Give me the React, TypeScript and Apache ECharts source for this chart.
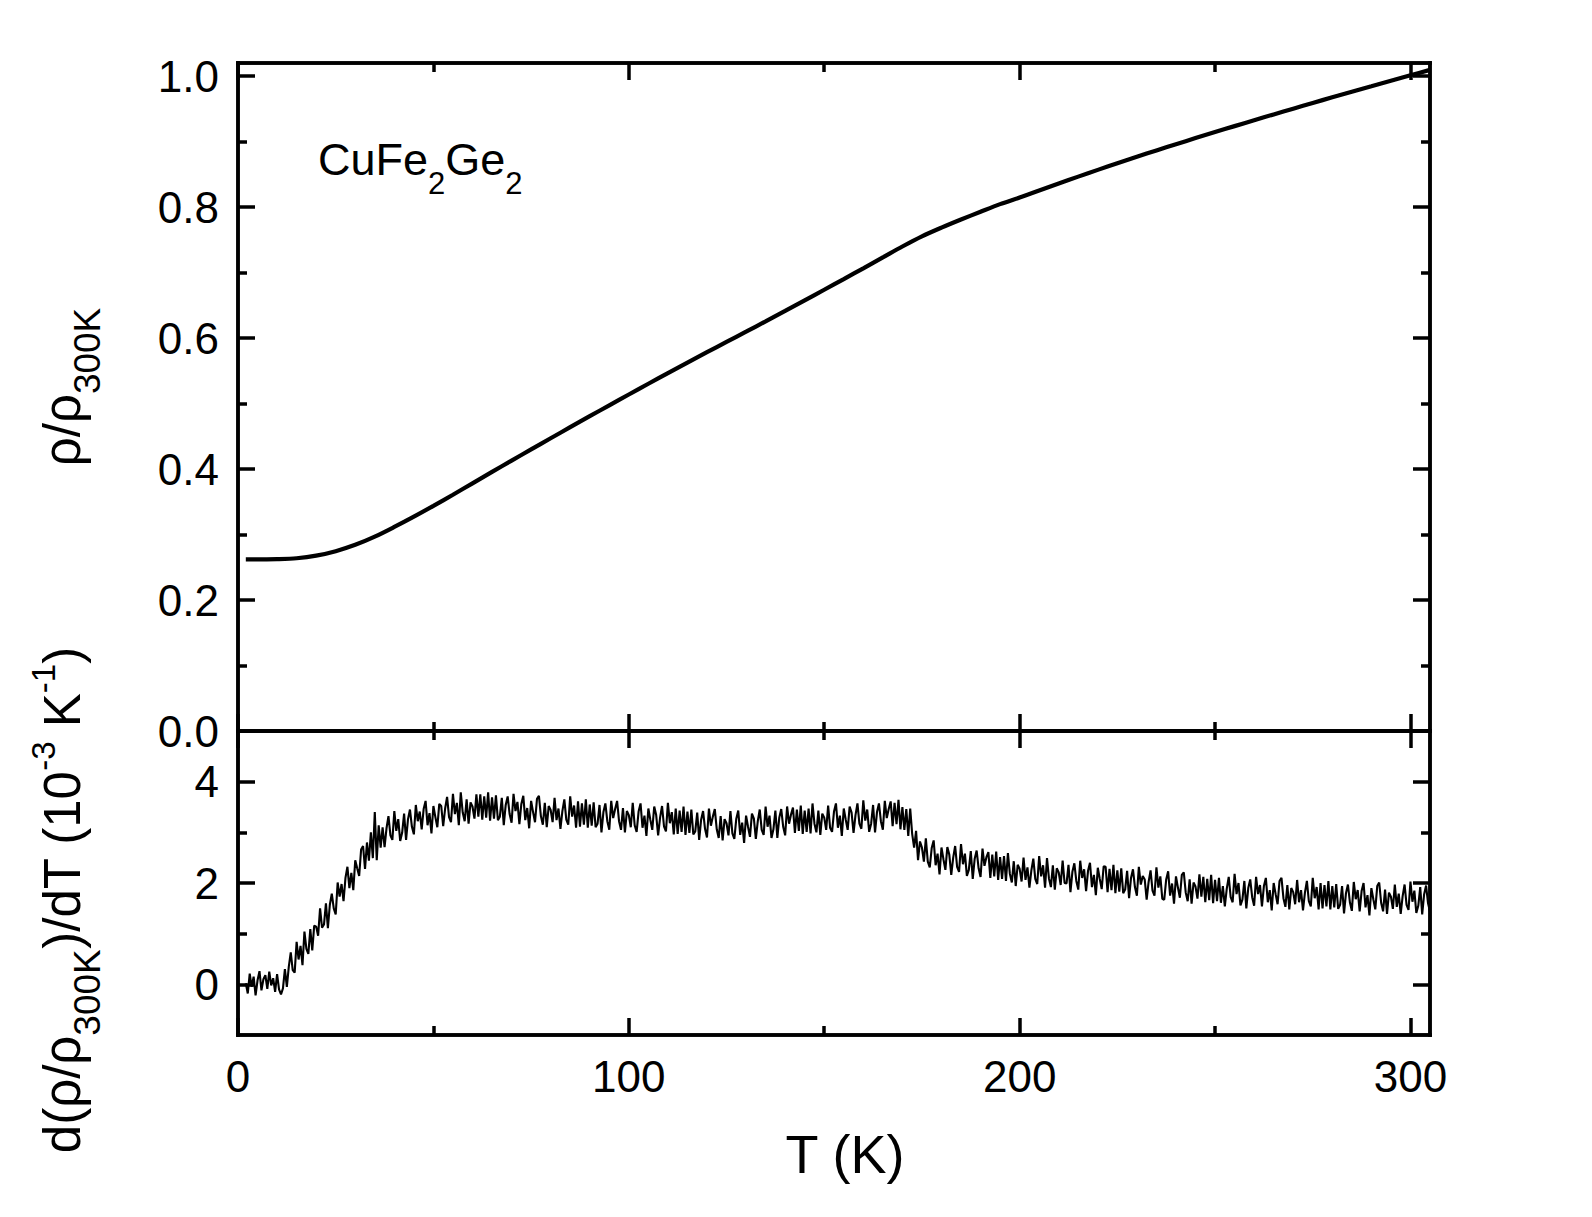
import React, { useEffect, useRef } from "react";
import * as echarts from "echarts";

// Normalised resistivity rho/rho(300 K) of CuFe2Ge2
const RHO_T = [
  2, 5, 10, 15, 20, 25, 30, 35, 40, 45, 50, 55, 60, 65, 70, 75, 80, 85, 90, 95,
  100, 105, 110, 115, 120, 125, 130, 135, 140, 145, 150, 155, 160, 165, 170, 175,
  180, 185, 190, 195, 200, 205, 210, 215, 220, 225, 230, 235, 240, 245, 250, 255,
  260, 265, 270, 275, 280, 285, 290, 295, 300, 305,
];
const RHO = [
  0.262, 0.2621, 0.2625, 0.2638, 0.2677, 0.2746, 0.2843, 0.2968, 0.3116, 0.3273,
  0.3438, 0.3608, 0.3782, 0.3956, 0.4129, 0.43, 0.447, 0.4639, 0.4807, 0.4973,
  0.5138, 0.5302, 0.5464, 0.5625, 0.5784, 0.5941, 0.6097, 0.6255, 0.6415, 0.6576,
  0.6738, 0.6901, 0.7065, 0.7231, 0.7398, 0.7553, 0.7686, 0.781, 0.7929, 0.8045,
  0.8145, 0.8253, 0.836, 0.8465, 0.8568, 0.8669, 0.8768, 0.8865, 0.896, 0.9053,
  0.9145, 0.9236, 0.9326, 0.9415, 0.9503, 0.959, 0.9676, 0.9761, 0.9845, 0.9929,
  1.0012, 1.0095,
];

// d(rho/rho300K)/dT in 1e-3 K^-1, sampled every 0.5 K from 2 K
const DRHO_T0 = 2;
const DRHO_STEP = 0.5;
const DRHO = [
  0.02, -0.18, 0.21, -0.05, 0.15, -0.22, 0.08, 0.26, -0.12, 0.10,
  0.18, -0.09, 0.25, -0.02, 0.12, -0.15, 0.20, -0.10, -0.20, -0.08,
  0.30, -0.05, 0.35, 0.63, 0.28, 0.23, 0.84, 0.49, 0.76, 0.38,
  1.04, 0.70, 0.60, 1.09, 0.67, 1.16, 1.14, 0.96, 1.50, 1.12,
  1.18, 1.60, 1.11, 1.57, 1.79, 1.50, 1.38, 2.01, 1.73, 1.98,
  1.64, 2.10, 2.32, 1.90, 2.20, 1.86, 2.45, 2.29, 2.14, 2.66,
  2.73, 2.28, 2.80, 2.44, 3.00, 2.49, 3.40, 2.45, 3.14, 2.70,
  3.10, 2.71, 3.08, 3.32, 2.94, 2.85, 3.42, 3.03, 3.26, 2.83,
  2.99, 3.37, 2.85, 3.26, 3.45, 3.11, 2.96, 3.54, 3.22, 3.41,
  3.06, 3.46, 3.62, 3.14, 3.38, 2.98, 3.52, 3.30, 3.10, 3.56,
  3.52, 3.12, 3.47, 3.70, 3.30, 3.20, 3.76, 3.36, 3.58, 3.14,
  3.79, 3.39, 3.22, 3.65, 3.17, 3.59, 3.51, 3.27, 3.75, 3.31,
  3.75, 3.25, 3.71, 3.29, 3.79, 3.23, 3.69, 3.27, 3.73, 3.24,
  3.31, 3.68, 3.14, 3.54, 3.71, 3.36, 3.19, 3.76, 3.42, 3.60,
  3.16, 3.56, 3.72, 3.24, 3.48, 3.08, 3.62, 3.40, 3.20, 3.66,
  3.72, 3.32, 3.15, 3.58, 3.10, 3.52, 3.44, 3.20, 3.68, 3.24,
  3.47, 3.07, 3.42, 3.65, 3.25, 3.15, 3.71, 3.31, 3.53, 3.09,
  3.61, 3.11, 3.57, 3.15, 3.65, 3.09, 3.55, 3.13, 3.59, 3.10,
  3.17, 3.54, 3.00, 3.40, 3.57, 3.22, 3.05, 3.62, 3.28, 3.46,
  3.62, 3.22, 3.05, 3.48, 3.00, 3.42, 3.34, 3.10, 3.58, 3.14,
  3.01, 3.41, 3.57, 3.09, 3.33, 2.93, 3.47, 3.25, 3.05, 3.51,
  3.34, 2.94, 3.29, 3.52, 3.12, 3.02, 3.58, 3.18, 3.40, 2.96,
  3.47, 2.97, 3.43, 3.01, 3.51, 2.95, 3.41, 2.99, 3.45, 2.96,
  3.02, 3.39, 2.85, 3.25, 3.42, 3.07, 2.90, 3.47, 3.13, 3.31,
  3.46, 3.06, 2.89, 3.32, 2.84, 3.26, 3.18, 2.94, 3.42, 2.98,
  2.87, 3.27, 3.43, 2.95, 3.19, 2.79, 3.33, 3.11, 2.91, 3.37,
  3.27, 2.87, 3.22, 3.45, 3.05, 2.95, 3.51, 3.11, 3.33, 2.89,
  3.06, 3.43, 2.89, 3.29, 3.46, 3.11, 2.94, 3.51, 3.17, 3.35,
  3.49, 2.99, 3.45, 3.03, 3.53, 2.97, 3.43, 3.01, 3.47, 2.98,
  3.57, 3.17, 3.00, 3.43, 2.95, 3.37, 3.29, 3.05, 3.53, 3.09,
  3.01, 3.41, 3.57, 3.09, 3.33, 2.93, 3.47, 3.25, 3.05, 3.51,
  3.39, 2.99, 3.34, 3.57, 3.17, 3.07, 3.63, 3.23, 3.45, 3.01,
  3.17, 3.54, 3.00, 3.40, 3.57, 3.22, 3.05, 3.62, 3.28, 3.46,
  3.61, 3.12, 3.58, 3.16, 3.64, 3.06, 3.50, 3.05, 3.46, 2.93,
  3.47, 2.97, 2.70, 3.03, 2.45, 2.82, 2.70, 2.42, 2.88, 2.42,
  2.31, 2.69, 2.84, 2.35, 2.58, 2.17, 2.70, 2.47, 2.26, 2.71,
  2.56, 2.16, 2.50, 2.73, 2.32, 2.22, 2.77, 2.37, 2.58, 2.14,
  2.26, 2.63, 2.08, 2.48, 2.64, 2.29, 2.12, 2.68, 2.34, 2.51,
  2.61, 2.10, 2.56, 2.13, 2.62, 2.06, 2.51, 2.08, 2.53, 2.04,
  2.59, 2.18, 2.01, 2.43, 1.94, 2.36, 2.28, 2.03, 2.50, 2.06,
  2.31, 1.91, 2.25, 2.48, 2.08, 1.98, 2.53, 2.13, 2.35, 1.91,
  2.49, 2.09, 1.92, 2.35, 1.87, 2.29, 2.21, 1.96, 2.44, 2.00,
  1.99, 2.36, 1.82, 2.22, 2.39, 2.04, 1.87, 2.44, 2.10, 2.27,
  1.84, 2.24, 2.40, 1.92, 2.16, 1.76, 2.30, 2.08, 1.88, 2.33,
  2.32, 1.82, 2.28, 1.86, 2.36, 1.80, 2.25, 1.83, 2.29, 1.80,
  1.87, 2.24, 1.70, 2.10, 2.27, 1.92, 1.75, 2.32, 1.97, 2.14,
  2.07, 1.67, 2.02, 2.25, 1.85, 1.75, 2.31, 1.91, 2.13, 1.69,
  1.67, 2.07, 2.23, 1.75, 1.99, 1.59, 2.13, 1.91, 1.71, 2.16,
  2.21, 1.81, 1.64, 2.07, 1.59, 2.01, 1.93, 1.69, 2.17, 1.73,
  2.12, 1.62, 2.08, 1.66, 2.16, 1.60, 2.06, 1.64, 2.10, 1.61,
  1.94, 1.54, 1.89, 2.12, 1.72, 1.62, 2.18, 1.78, 2.00, 1.56,
  1.67, 2.04, 1.50, 1.90, 2.07, 1.72, 1.55, 2.12, 1.78, 1.96,
  1.54, 1.94, 2.10, 1.62, 1.86, 1.46, 2.00, 1.78, 1.58, 2.04,
  2.10, 1.70, 1.53, 1.96, 1.48, 1.90, 1.82, 1.58, 2.06, 1.62,
  1.86, 1.46, 1.81, 2.04, 1.64, 1.54, 2.10, 1.70, 1.92, 1.48,
  2.00, 1.50, 1.96, 1.54, 2.04, 1.48, 1.94, 1.52, 1.98, 1.49,
  1.57, 1.94, 1.40, 1.80, 1.97, 1.62, 1.45, 2.02, 1.68, 1.86,
  1.44, 1.84, 2.00, 1.52, 1.76, 1.36, 1.90, 1.68, 1.48, 1.94,
  2.01, 1.61, 1.44, 1.87, 1.39, 1.81, 1.73, 1.49, 1.97, 1.53,
  1.79, 1.39, 1.74, 1.97, 1.57, 1.47, 2.03, 1.63, 1.85, 1.41,
  1.55, 1.92, 1.38, 1.78, 1.95, 1.60, 1.43,
];

// Axis ranges and tick positions
const T_MIN = 0;
const T_MAX = 305;
const T_MAJOR = [0, 100, 200, 300];
const T_MINOR = [50, 150, 250];
const R_MIN = 0;
const R_MAX = 1.02;
const R_MAJOR = [0, 0.2, 0.4, 0.6, 0.8, 1.0];
const R_MINOR = [0.1, 0.3, 0.5, 0.7, 0.9];
const D_MIN = -1;
const D_MAX = 5;
const D_MAJOR = [0, 2, 4];
const D_MINOR = [1, 3];

const FONT = "'Liberation Sans', Arial, Helvetica, sans-serif";
const INK = "#000";
const AXIS_W = 3.5;
const MAJOR_LEN = 17;
const MINOR_LEN = 9;

type Pos = "left" | "right" | "top" | "bottom";

function axis(
  gridIndex: number,
  position: Pos,
  min: number,
  max: number,
  ticks: number[],
  length: number,
  labelFormat?: (v: number) => string
) {
  return {
    type: "value",
    gridIndex,
    position,
    min,
    max,
    axisLine: {
      show: true,
      onZero: false,
      lineStyle: { color: INK, width: AXIS_W, cap: "square" },
    },
    axisTick: {
      show: true,
      inside: true,
      length,
      customValues: ticks,
      lineStyle: { color: INK, width: AXIS_W },
    },
    axisLabel: labelFormat
      ? {
          show: true,
          customValues: ticks,
          formatter: (v: number) => labelFormat(v),
          color: INK,
          fontFamily: FONT,
          fontSize: 44,
          margin: 19,
        }
      : { show: false },
    splitLine: { show: false },
    minorTick: { show: false },
  };
}

export default function App() {
  const ref = useRef<HTMLDivElement>(null);

  useEffect(() => {
    if (!ref.current) return;
    const chart = echarts.init(ref.current, undefined, { renderer: "svg" });

    const rhoData = RHO_T.map((t, i) => [t, RHO[i]]);
    const dData = DRHO.map((v, i) => [DRHO_T0 + i * DRHO_STEP, v]);

    const xAxes = [
      axis(0, "bottom", T_MIN, T_MAX, T_MAJOR, MAJOR_LEN),
      axis(0, "bottom", T_MIN, T_MAX, T_MINOR, MINOR_LEN),
      axis(0, "top", T_MIN, T_MAX, T_MAJOR, MAJOR_LEN),
      axis(0, "top", T_MIN, T_MAX, T_MINOR, MINOR_LEN),
      axis(1, "bottom", T_MIN, T_MAX, T_MAJOR, MAJOR_LEN, (v) => String(Math.round(v))),
      axis(1, "bottom", T_MIN, T_MAX, T_MINOR, MINOR_LEN),
      axis(1, "top", T_MIN, T_MAX, T_MAJOR, MAJOR_LEN),
      axis(1, "top", T_MIN, T_MAX, T_MINOR, MINOR_LEN),
    ];
    const yAxes = [
      axis(0, "left", R_MIN, R_MAX, R_MAJOR, MAJOR_LEN, (v) => v.toFixed(1)),
      axis(0, "left", R_MIN, R_MAX, R_MINOR, MINOR_LEN),
      axis(0, "right", R_MIN, R_MAX, R_MAJOR, MAJOR_LEN),
      axis(0, "right", R_MIN, R_MAX, R_MINOR, MINOR_LEN),
      axis(1, "left", D_MIN, D_MAX, D_MAJOR, MAJOR_LEN, (v) => String(Math.round(v))),
      axis(1, "left", D_MIN, D_MAX, D_MINOR, MINOR_LEN),
      axis(1, "right", D_MIN, D_MAX, D_MAJOR, MAJOR_LEN),
      axis(1, "right", D_MIN, D_MAX, D_MINOR, MINOR_LEN),
    ];

    chart.setOption({
      animation: false,
      backgroundColor: "#fff",
      grid: [
        { left: 238, top: 63, width: 1192, height: 668, outerBoundsMode: "none" },
        { left: 238, top: 731, width: 1192, height: 304, outerBoundsMode: "none" },
      ],
      xAxis: xAxes,
      yAxis: yAxes,
      series: [
        {
          type: "line",
          xAxisIndex: 0,
          yAxisIndex: 0,
          data: rhoData,
          smooth: 0.3,
          showSymbol: false,
          lineStyle: { color: INK, width: 4.2 },
          z: 3,
        },
        {
          type: "line",
          xAxisIndex: 4,
          yAxisIndex: 4,
          data: dData,
          showSymbol: false,
          lineStyle: { color: INK, width: 2.1 },
          z: 3,
        },
      ],
      graphic: [
        {
          type: "text",
          x: 318,
          y: 119,
          style: {
            text: "{m|CuFe}{s|2}{m|Ge}{s|2}",
            fill: INK,
            align: "left",
            verticalAlign: "top",
            rich: {
              m: { fontFamily: FONT, fontSize: 45, lineHeight: 80, fill: INK },
              s: {
                fontFamily: FONT,
                fontSize: 31,
                height: 31,
                lineHeight: 31,
                verticalAlign: "bottom",
                fill: INK,
              },
            },
          },
        },
        {
          type: "text",
          x: 62,
          y: 387,
          rotation: Math.PI / 2,
          style: {
            text: "{m|ρ/ρ}{s|300K}",
            fill: INK,
            align: "center",
            verticalAlign: "middle",
            rich: {
              m: { fontFamily: FONT, fontSize: 51, lineHeight: 88, fill: INK },
              s: {
                fontFamily: FONT,
                fontSize: 37,
                height: 38,
                lineHeight: 38,
                verticalAlign: "bottom",
                fill: INK,
              },
            },
          },
        },
        {
          type: "text",
          x: 62,
          y: 900,
          rotation: Math.PI / 2,
          style: {
            text: "{m|d(ρ/ρ}{s|300K}{m|)/dT (10}{p|-3}{m| K}{p|-1}{m|)}",
            fill: INK,
            align: "center",
            verticalAlign: "middle",
            rich: {
              m: { fontFamily: FONT, fontSize: 51, lineHeight: 88, fill: INK },
              s: {
                fontFamily: FONT,
                fontSize: 37,
                height: 38,
                lineHeight: 38,
                verticalAlign: "bottom",
                fill: INK,
              },
              p: {
                fontFamily: FONT,
                fontSize: 33,
                height: 50,
                lineHeight: 50,
                verticalAlign: "top",
                fill: INK,
              },
            },
          },
        },
        {
          type: "text",
          x: 845,
          y: 1154,
          style: {
            text: "T (K)",
            fill: INK,
            font: `54px ${FONT}`,
            align: "center",
            verticalAlign: "middle",
          },
        },
      ],
    });

    return () => chart.dispose();
  }, []);

  return (
    <div
      ref={ref}
      style={{ position: "absolute", left: 0, top: 0, width: 1592, height: 1217 }}
    />
  );
}
